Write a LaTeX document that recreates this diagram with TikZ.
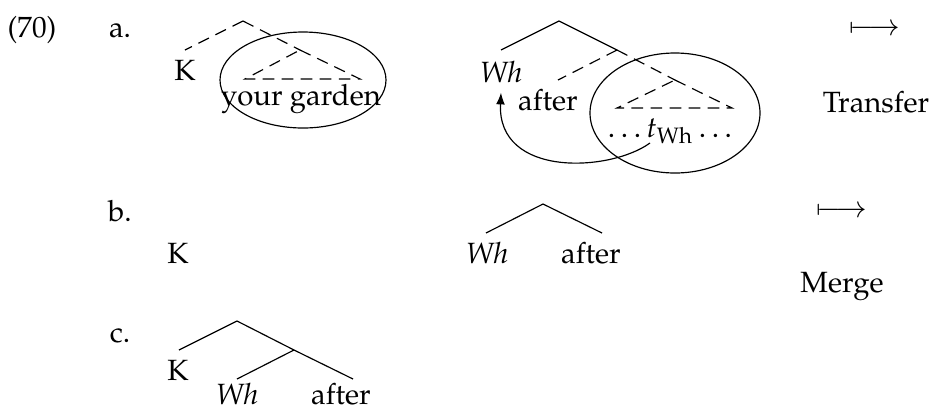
\documentclass[tikz,border=0pt]{standalone}
\usepackage{amsmath}
\usepackage[T1]{fontenc}
\usepackage{mathpazo}
\usepackage{tikz}
\usetikzlibrary{arrows.meta}

\begin{document}
\begin{tikzpicture}[
    x=0.12mm, y=-0.12mm,
    word/.style={anchor=base},
    branch/.style={thin},
    dashbranch/.style={thin, dash pattern=on 4pt off 2.5pt},
    phase/.style={draw, thin},
    movearr/.style={-{Latex[length=4pt, width=3pt]}, thin}
]
\useasboundingbox (0,0) rectangle (931,409);

% Labels
\node[word] (ex) at (32,37) {(70)};
\node[word] (la) at (120,37) {a.};
\node[word] (lb) at (120,221) {b.};
\node[word] (lc) at (120,342) {c.};

% a. left: K + your garden
\node[word] (ka) at (185,80) {K};
\node[word] (garden) at (301,105) {your garden};

\coordinate (ra) at (243,21);
\coordinate (ka-top) at (185,50);
\coordinate (ga) at (300,50);
\coordinate (ga-l) at (245,79);
\coordinate (ga-r) at (360,79);

\draw[dashbranch] (ra) -- (ka-top);
\draw[dashbranch] (ra) -- (ga);
\draw[dashbranch] (ga) -- (ga-r) -- (ga-l) -- cycle;

\draw[phase] (303,80) ellipse (83 and 48);

% a. middle: Wh after ...
\node[word] (wha) at (501,82) {\emph{Wh}};
\node[word] (aftera) at (548,110) {after};
\node[word] (trace) at (670,137) {$\ldots t_{\mathrm{Wh}} \ldots$};

\coordinate (rm) at (559,21);
\coordinate (wha-top) at (501,50);
\coordinate (xm) at (617,50);
\coordinate (aftera-top) at (558,80);
\coordinate (tm) at (675,80);
\coordinate (tm-l) at (617,108);
\coordinate (tm-r) at (732,108);
\coordinate (trace-foot) at (650,143);

\draw[branch] (rm) -- (wha-top);
\draw[branch] (rm) -- (xm);
\draw[dashbranch] (xm) -- (aftera-top);
\draw[dashbranch] (xm) -- (tm);
\draw[dashbranch] (tm) -- (tm-r) -- (tm-l) -- cycle;

\draw[phase] (675,113) ellipse (85 and 60);

\draw[movearr] (trace-foot) .. controls (610,172) and (497,178) .. (wha.south);

% a. right
\node (mapa) at (875,30) {$\longmapsto$};
\node[word] (transfer) at (876,112) {Transfer};

% b.
\node[word] (kb) at (178,263) {K};
\node[word] (whb) at (487,263) {\emph{Wh}};
\node[word] (afterb) at (591,263) {after};

\coordinate (rb) at (543,204);
\coordinate (whb-top) at (486,233);
\coordinate (afterb-top) at (602,233);

\draw[branch] (rb) -- (whb-top);
\draw[branch] (rb) -- (afterb-top);

\node (mapb) at (842,212) {$\longmapsto$};
\node[word] (merge) at (842,292) {Merge};

% c.
\node[word] (kc) at (178,380) {K};
\node[word] (whc) at (237,404) {\emph{Wh}};
\node[word] (afterc) at (341,404) {after};

\coordinate (rc) at (237,321);
\coordinate (kc-top) at (179,350);
\coordinate (xc) at (294,350);
\coordinate (whc-top) at (237,379);
\coordinate (afterc-top) at (353,379);

\draw[branch] (rc) -- (kc-top);
\draw[branch] (rc) -- (xc) -- (afterc-top);
\draw[branch] (xc) -- (whc-top);

\end{tikzpicture}
\end{document}
